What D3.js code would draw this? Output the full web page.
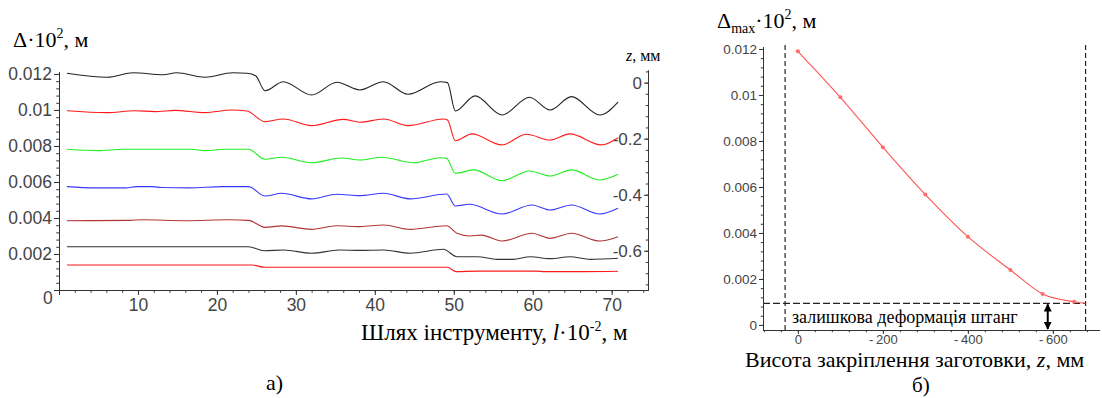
<!DOCTYPE html>
<html>
<head>
<meta charset="utf-8">
<script src="https://cdn.jsdelivr.net/npm/d3@7"></script>
<style>
  body { margin: 0; background: #fff; }
  svg text { font-family: "Liberation Sans", Arial, sans-serif; }
  .serif { font-family: "Liberation Serif", "Times New Roman", serif !important; }
  .domain, .tick line { stroke: #333; }
</style>
</head>
<body>
<svg id="chart" width="1102" height="398"></svg>
<script>
// ---------------- data: chart a) deflection along the tool path ----------------
// each curve: [l (x10^-2 m), delta (x10^2 m)]
var curveZ0 = [[1.0,0.01204],[6.1,0.01182],[9.4,0.01207],[13.2,0.01196],[14.9,0.01207],[18.5,0.01182],[22.0,0.01207],[23.8,0.01204],[24.9,0.0119],
  [26.1,0.01107],[28.4,0.01157],[32.0,0.01083],[35.2,0.01154],[38.1,0.01111],[41.1,0.01157],[44.2,0.01087],[48.3,0.01157],[49.2,0.01152],
  [50.2,0.00994],[52.7,0.01078],[56.1,0.00972],[59.6,0.01071],[62.2,0.0100],[64.9,0.01074],[68.5,0.00972],[70.8,0.01043]];
var curveZ1 = [[1.0,0.00996],[6.0,0.00985],[9.6,0.00996],[12.2,0.00991],[14.7,0.00998],[18.5,0.00985],[21.9,0.0100],[23.8,0.00994],
  [26.1,0.00935],[28.4,0.0095],[32.0,0.00913],[36.0,0.00948],[38.1,0.00932],[41.1,0.0095],[44.2,0.00913],[48.7,0.0095],[49.2,0.00944],
  [50.2,0.00829],[52.3,0.00867],[56.1,0.00806],[59.2,0.00865],[62.2,0.00833],[64.7,0.00867],[68.7,0.00806],[70.8,0.00846]];
var curveZ2 = [[1.0,0.00782],[5.0,0.00774],[8.0,0.00782],[16.8,0.00782],[18.5,0.00774],[21.0,0.00782],[24.0,0.00782],
  [26.1,0.00726],[28.2,0.00737],[32.0,0.00707],[35.8,0.00733],[38.1,0.00722],[40.9,0.00737],[44.9,0.00707],[48.3,0.00735],[49.1,0.00731],
  [50.2,0.00648],[52.5,0.00667],[56.1,0.00607],[59.6,0.00661],[62.2,0.00633],[64.9,0.00667],[68.5,0.00611],[70.8,0.00643]];
var curveZ3 = [[1.0,0.00574],[4.5,0.00567],[8.5,0.00567],[9.8,0.00574],[11.8,0.00574],[13.0,0.00569],[16.5,0.00567],[20.8,0.00574],[24.0,0.00574],
  [26.1,0.00522],[28.2,0.00537],[32.0,0.00506],[35.2,0.00532],[38.1,0.00524],[41.1,0.00537],[44.5,0.00506],[49.1,0.00533],
  [50.2,0.00467],[52.0,0.00476],[56.1,0.00422],[59.9,0.00472],[62.2,0.00444],[64.9,0.00472],[68.5,0.00422],[70.8,0.00454]];
var curveZ4 = [[1.0,0.00385],[9.0,0.00387],[10.5,0.0039],[16.0,0.00385],[21.5,0.0039],[24.0,0.00387],
  [26.1,0.00348],[28.2,0.00356],[32.0,0.00337],[35.2,0.00357],[38.1,0.00352],[41.1,0.00361],[44.5,0.00337],[49.1,0.00357],
  [50.4,0.00315],[52.0,0.0030],[53.5,0.00305],[56.1,0.00272],[59.9,0.00315],[62.2,0.00287],[64.9,0.00315],[68.5,0.00272],[70.8,0.00296]];
var curveZ5 = [[1.0,0.0024],[24.0,0.0024],[26.0,0.00218],[28.5,0.00222],[32.0,0.00204],[35.5,0.00222],[38.1,0.0022],[41.1,0.00222],[44.5,0.00204],[48.7,0.00226],
  [50.4,0.00185],[53.0,0.00185],[55.5,0.0017],[57.5,0.0017],[59.7,0.00185],[62.2,0.00174],[64.7,0.00185],[67.3,0.0017],[70.8,0.00176]];
var curveZ6 = [[1.0,0.00139],[24.5,0.00139],[26.0,0.00126],[49.2,0.00126],[50.3,0.00102],[53.0,0.00105],[60.5,0.00105],[61.5,0.00102],[66.5,0.00102],[70.8,0.00104]];

var curveColors = ['#222', '#ff1a1a', '#22ee22', '#3a3aff', '#b03535', '#333', '#ff1a1a'];

var lTicks = [10, 20, 30, 40, 50, 60, 70];
var deltaTicks = [0.002, 0.004, 0.006, 0.008, 0.01, 0.012];
var deltaLabels = ['0.002', '0.004', '0.006', '0.008', '0.01', '0.012'];
var zTicks = [0, -0.2, -0.4, -0.6];
var zLabels = ['0', '-0.2', '-0.4', '-0.6'];

// ---------------- data: chart b) max deflection vs clamp height ----------------
var zHeights = [0, -100, -200, -300, -400, -500, -576, -650, -677];
var deltaMax = [0.0119, 0.0099, 0.00773, 0.00567, 0.00384, 0.00239, 0.00135, 0.00101, 0.00094];
var zMarkTicks = [0, -200, -400, -600];
var zMarkLabels = ['0', '-\u2009200', '-\u2009400', '-\u2009600'];
var residual = 0.00094;     // residual rod deformation (dashed line)
var zLimits = [30, -677];   // dashed verticals

var svg = d3.select('#chart');

// axis helper: minor ticks (no labels) + labelled major ticks
function axis(gen, scale, tr, minor, major, labels, size, pad, fs) {
  svg.append('g').attr('transform', tr)
    .call(gen(scale).tickValues(minor).tickSize(size * 0.55).tickSizeOuter(0).tickFormat(''));
  var g = svg.append('g').attr('transform', tr)
    .call(gen(scale).tickValues(major).tickSize(size).tickSizeOuter(0).tickPadding(pad)
      .tickFormat(function(d, i) { return labels[i]; }));
  g.selectAll('text').attr('fill', '#444').style('font-size', fs + 'px');
  return g;
}
function range(a, b, step) {
  var out = [];
  var n = Math.round((b - a) / step);
  for (var i = 0; i <= n; i++) out.push(+(a + i * step).toFixed(6));
  return out;
}

/////////////////////////// chart a) ///////////////////////////
var x = d3.scaleLinear().domain([0, 74.6]).range([59, 648]);
var y = d3.scaleLinear().domain([0, 0.01212]).range([290, 71.8]);
var zr = d3.scaleLinear().domain([0.045, -0.74]).range([70, 290]);

var line = d3.line()
  .x(function(d) { return x(d[0]); })
  .y(function(d) { return y(d[1]); })
  .curve(d3.curveMonotoneX);

[curveZ0, curveZ1, curveZ2, curveZ3, curveZ4, curveZ5, curveZ6].forEach(function(c, i) {
  svg.append('path').datum(c)
    .attr('d', line)
    .attr('fill', 'none')
    .attr('stroke', curveColors[i])
    .attr('stroke-width', 1.1);
});

axis(d3.axisBottom, x, 'translate(0,290)', range(0, 74, 2), [0].concat(lTicks), [''].concat(lTicks.map(String)), 5, 4, 17.5);
axis(d3.axisLeft, y, 'translate(59,0)', range(0, 0.012, 0.0004), [0].concat(deltaTicks), [''].concat(deltaLabels), 5, 2, 17.5);
axis(d3.axisLeft, zr, 'translate(648,0)', range(-0.72, 0.04, 0.04), zTicks, zLabels, 4, 2, 17);

svg.append('text').attr('x', 43).attr('y', 304).attr('fill', '#444').style('font-size', '17.5px').text('0');

// titles a)
var ta = svg.append('text').attr('class', 'serif').attr('x', 13).attr('y', 47).style('font-size', '22px');
ta.append('tspan').text('\u0394\u00b710');
ta.append('tspan').attr('dy', -9).style('font-size', '14px').text('2');
ta.append('tspan').attr('dy', 9).text(', \u043c');

var tz = svg.append('text').attr('class', 'serif').attr('x', 626).attr('y', 61).style('font-size', '16px');
tz.append('tspan').style('font-style', 'italic').text('z');
tz.append('tspan').text(', \u043c\u043c');

var xa = svg.append('text').attr('class', 'serif').attr('x', 361).attr('y', 340).style('font-size', '23px');
xa.append('tspan').text('\u0428\u043b\u044f\u0445 \u0456\u043d\u0441\u0442\u0440\u0443\u043c\u0435\u043d\u0442\u0443, ');
xa.append('tspan').style('font-style', 'italic').text('l');
xa.append('tspan').text('\u00b710');
xa.append('tspan').attr('dy', -9).style('font-size', '14px').text('-2');
xa.append('tspan').attr('dy', 9).text(', \u043c');

svg.append('text').attr('class', 'serif').attr('x', 266).attr('y', 390).style('font-size', '22px').text('\u0430)');

/////////////////////////// chart b) ///////////////////////////
var zx = d3.scaleLinear().domain([82, -710]).range([763, 1099.6]);
var dy = d3.scaleLinear().domain([-0.00022, 0.0121]).range([330, 46.7]);

// dashed guides
zLimits.forEach(function(z) {
  svg.append('line')
    .attr('x1', zx(z)).attr('x2', zx(z))
    .attr('y1', 45).attr('y2', dy(-0.00022))
    .attr('stroke', '#222').attr('stroke-width', 1.2).attr('stroke-dasharray', '5,3');
});
svg.append('line')
  .attr('x1', zx(82)).attr('x2', zx(zLimits[1]))
  .attr('y1', dy(residual)).attr('y2', dy(residual))
  .attr('stroke', '#222').attr('stroke-width', 1.2).attr('stroke-dasharray', '7,3');

axis(d3.axisBottom, zx, 'translate(0,330)', range(-680, 80, 40), zMarkTicks, zMarkLabels, 4, 1, 13);
axis(d3.axisLeft, dy, 'translate(763,0)', range(0, 0.012, 0.0004), [0].concat(deltaTicks), ['0'].concat(deltaLabels), 4, 2, 13.5);

var pts = zHeights.map(function(z, i) { return [z, deltaMax[i]]; });
var lineB = d3.line()
  .x(function(d) { return zx(d[0]); })
  .y(function(d) { return dy(d[1]); })
  .curve(d3.curveMonotoneX);
svg.append('path').datum(pts)
  .attr('d', lineB).attr('fill', 'none')
  .attr('stroke', '#ff5555').attr('stroke-width', 1.1);
svg.selectAll('.pt').data(pts.slice(0, -1)).enter().append('circle')
  .attr('class', 'pt')
  .attr('cx', function(d) { return zx(d[0]); })
  .attr('cy', function(d) { return dy(d[1]); })
  .attr('r', 2).attr('fill', '#ff6b6b');

// residual-deformation annotation
var defs = svg.append('defs');
defs.append('marker').attr('id', 'ah').attr('viewBox', '0 0 10 10')
  .attr('refX', 9).attr('refY', 5).attr('markerWidth', 4).attr('markerHeight', 4)
  .attr('orient', 'auto-start-reverse')
  .append('path').attr('d', 'M0,0L10,5L0,10z').attr('fill', '#000');
svg.append('line')
  .attr('x1', zx(-588)).attr('x2', zx(-588))
  .attr('y1', dy(residual) + 1).attr('y2', dy(-0.00022) - 1)
  .attr('stroke', '#000').attr('stroke-width', 2)
  .attr('marker-start', 'url(#ah)').attr('marker-end', 'url(#ah)');
svg.append('text').attr('class', 'serif').attr('x', 792).attr('y', 323).style('font-size', '18px')
  .text('\u0437\u0430\u043b\u0438\u0448\u043a\u043e\u0432\u0430 \u0434\u0435\u0444\u043e\u0440\u043c\u0430\u0446\u0456\u044f \u0448\u0442\u0430\u043d\u0433');

// titles b)
var tb = svg.append('text').attr('class', 'serif').attr('x', 717).attr('y', 28).style('font-size', '22px');
tb.append('tspan').text('\u0394');
tb.append('tspan').attr('dy', 5).style('font-size', '14px').text('max');
tb.append('tspan').attr('dy', -5).text('\u00b710');
tb.append('tspan').attr('dy', -9).style('font-size', '14px').text('2');
tb.append('tspan').attr('dy', 9).text(', \u043c');

var xb = svg.append('text').attr('class', 'serif').attr('x', 745).attr('y', 367).style('font-size', '22px');
xb.append('tspan').text('\u0412\u0438\u0441\u043e\u0442\u0430 \u0437\u0430\u043a\u0440\u0456\u043f\u043b\u0435\u043d\u043d\u044f \u0437\u0430\u0433\u043e\u0442\u043e\u0432\u043a\u0438, ');
xb.append('tspan').style('font-style', 'italic').text('z');
xb.append('tspan').text(', \u043c\u043c');

svg.append('text').attr('class', 'serif').attr('x', 912).attr('y', 392).style('font-size', '21px').text('\u0431)');
</script>
</body>
</html>
